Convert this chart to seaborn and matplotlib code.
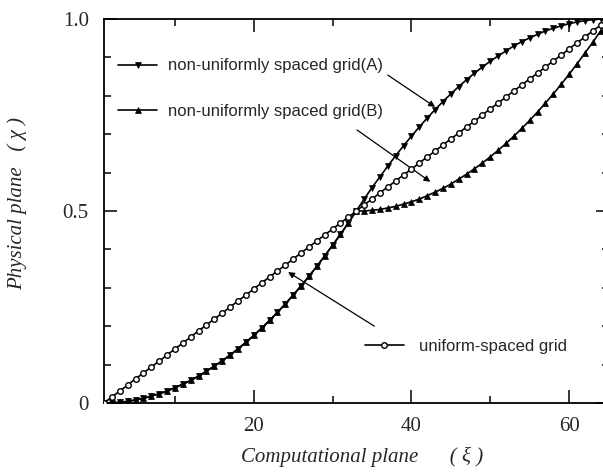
import matplotlib
matplotlib.use("Agg")
import matplotlib.pyplot as plt
from matplotlib.ticker import MultipleLocator
import seaborn as sns
import pandas as pd

# ---- data ----
xi = list(range(1, 66))

uniform = [0.000, 0.016, 0.031, 0.047, 0.063, 0.078, 0.094, 0.109, 0.125, 0.141,
           0.156, 0.172, 0.188, 0.203, 0.219, 0.234, 0.250, 0.266, 0.281, 0.297,
           0.313, 0.328, 0.344, 0.359, 0.375, 0.391, 0.406, 0.422, 0.438, 0.453,
           0.469, 0.484, 0.500, 0.516, 0.531, 0.547, 0.563, 0.578, 0.594, 0.609,
           0.625, 0.641, 0.656, 0.672, 0.688, 0.703, 0.719, 0.734, 0.750, 0.766,
           0.781, 0.797, 0.813, 0.828, 0.844, 0.859, 0.875, 0.891, 0.906, 0.922,
           0.938, 0.953, 0.969, 0.984, 1.000]

grid_a = [0.000, 0.000, 0.002, 0.004, 0.008, 0.012, 0.018, 0.024, 0.031, 0.040,
          0.049, 0.059, 0.070, 0.083, 0.096, 0.110, 0.125, 0.141, 0.158, 0.176,
          0.195, 0.215, 0.236, 0.258, 0.281, 0.305, 0.330, 0.356, 0.383, 0.411,
          0.439, 0.469, 0.500, 0.531, 0.561, 0.589, 0.617, 0.644, 0.670, 0.695,
          0.719, 0.742, 0.764, 0.785, 0.805, 0.824, 0.842, 0.859, 0.875, 0.890,
          0.904, 0.917, 0.930, 0.941, 0.951, 0.960, 0.969, 0.976, 0.982, 0.988,
          0.992, 0.996, 0.998, 1.000, 1.000]

grid_b = [0.000, 0.000, 0.002, 0.004, 0.008, 0.012, 0.018, 0.024, 0.031, 0.040,
          0.049, 0.059, 0.070, 0.083, 0.096, 0.110, 0.125, 0.141, 0.158, 0.176,
          0.195, 0.215, 0.236, 0.258, 0.281, 0.305, 0.330, 0.356, 0.383, 0.411,
          0.439, 0.469, 0.500, 0.500, 0.502, 0.504, 0.508, 0.512, 0.518, 0.524,
          0.531, 0.540, 0.549, 0.559, 0.570, 0.583, 0.596, 0.610, 0.625, 0.641,
          0.658, 0.676, 0.695, 0.715, 0.736, 0.758, 0.781, 0.805, 0.830, 0.856,
          0.883, 0.911, 0.939, 0.969, 1.000]

label_a = "non-uniformly spaced grid(A)"
label_b = "non-uniformly spaced grid(B)"
label_u = "uniform-spaced grid"

x_major = [20, 40, 60]
x_minor = [10, 30, 50]
y_major = [0, 0.5, 1.0]
y_major_labels = ["0", "0.5", "1.0"]

df = pd.DataFrame({"xi": xi, "A": grid_a, "B": grid_b, "U": uniform})

# ---- styling ----
sns.set_theme(style="ticks")
plt.rcParams["font.family"] = ["Liberation Serif", "DejaVu Serif"]

fig = plt.figure(figsize=(6.03, 4.76), dpi=100)
ax = fig.add_axes([104 / 603, 73 / 476, 504.5 / 603, 384 / 476])

lw = 1.2
sns.lineplot(data=df, x="xi", y="A", ax=ax, color="black", lw=lw, marker="v",
             markersize=4.0, markerfacecolor="black", markeredgecolor="black",
             markeredgewidth=0.5, label=label_a, errorbar=None, zorder=3)
sns.lineplot(data=df, x="xi", y="B", ax=ax, color="black", lw=lw, marker="^",
             markersize=4.0, markerfacecolor="black", markeredgecolor="black",
             markeredgewidth=0.5, label=label_b, errorbar=None, zorder=3)
sns.lineplot(data=df, x="xi", y="U", ax=ax, color="black", lw=lw, marker="o",
             markersize=4.0, markerfacecolor="white", markeredgecolor="black",
             markeredgewidth=1.0, label=label_u, errorbar=None, zorder=4)

if ax.get_legend() is not None:
    ax.get_legend().remove()

ax.set_xlim(1, 65)
ax.set_ylim(0, 1.0)

ax.set_xticks(x_major)
ax.set_xticks(x_minor, minor=True)
ax.set_yticks(y_major, y_major_labels)
ax.yaxis.set_minor_locator(MultipleLocator(0.1))

for s in ax.spines.values():
    s.set_visible(True)
    s.set_linewidth(1.3)
    s.set_color("black")

ax.tick_params(which="both", direction="in", top=True, right=True,
               color="black", width=1.1)
ax.tick_params(which="major", length=9.5)
ax.tick_params(which="minor", length=5)
ax.tick_params(axis="x", which="major", labelsize=15, pad=10)
ax.tick_params(axis="y", which="major", labelsize=15, pad=11)

# axis labels
ax.set_xlabel("Computational plane      ( ξ )", fontsize=15, style="italic",
              va="center")
ax.xaxis.set_label_coords(0.511, -0.141)
ax.set_ylabel("Physical plane   ( χ )", fontsize=15, style="italic",
              va="center")
ax.yaxis.set_label_coords(-0.171, 0.52)

# ---- floating legends ----
handles, labels = ax.get_legend_handles_labels()
hmap = dict(zip(labels, handles))
leg_kw = dict(frameon=False, borderpad=0, borderaxespad=0, loc="center left",
              handlelength=2.35, numpoints=1,
              prop={"family": "Liberation Sans", "size": 12})

leg1 = ax.legend([hmap[label_a]], [label_a], bbox_to_anchor=(0.028, 0.878),
                 handletextpad=0.65, **leg_kw)
ax.add_artist(leg1)
leg2 = ax.legend([hmap[label_b]], [label_b], bbox_to_anchor=(0.028, 0.760),
                 handletextpad=0.65, **leg_kw)
ax.add_artist(leg2)
ax.legend([hmap[label_u]], [label_u], bbox_to_anchor=(0.517, 0.148),
          handletextpad=0.9, **leg_kw)

# leader arrows
arrow_kw = dict(arrowstyle="-|>", color="black", lw=0.9, mutation_scale=9,
                shrinkA=0, shrinkB=0)
ax.annotate("", xy=(43.0, 0.771), xytext=(37.0, 0.854), arrowprops=arrow_kw)
ax.annotate("", xy=(42.4, 0.576), xytext=(33.1, 0.711), arrowprops=arrow_kw)
ax.annotate("", xy=(24.35, 0.341), xytext=(35.3, 0.200), arrowprops=arrow_kw)

fig.savefig("out.png", dpi=100)
